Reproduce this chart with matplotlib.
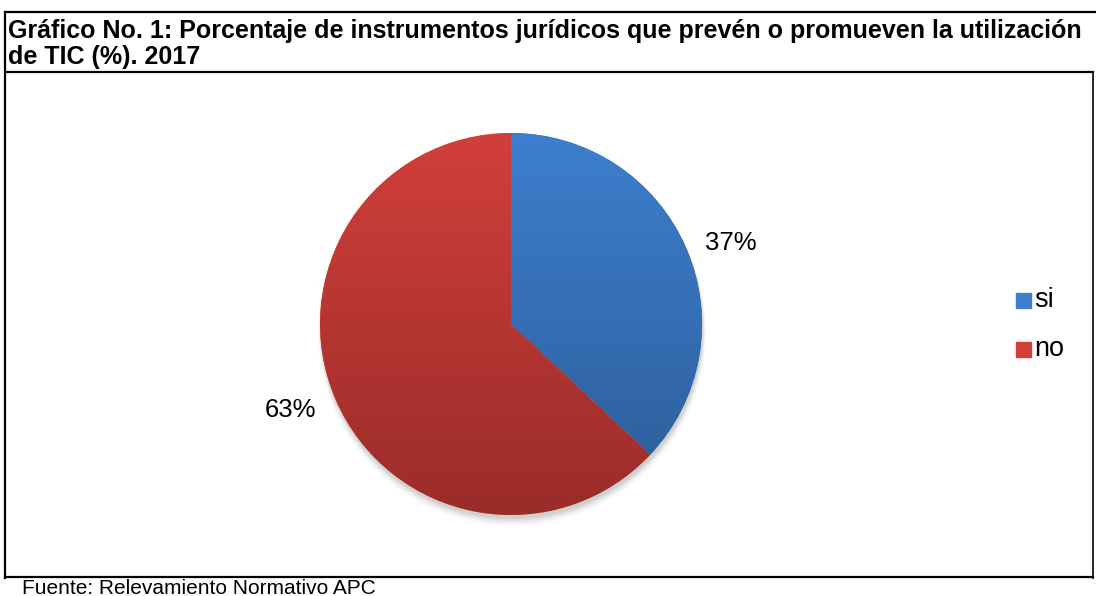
import matplotlib.pyplot as plt
import numpy as np
from matplotlib.colors import LinearSegmentedColormap
from matplotlib.patches import Circle

labels = ["si", "no"]
values = [37, 63]
top_colors = ["#3d7fcd", "#d13f3b"]
bottom_colors = ["#2c5c98", "#9a2c2a"]

title = "Gráfico No. 1: Porcentaje de instrumentos jurídicos que prevén o promueven la utilización\nde TIC (%). 2017"
source = "Fuente: Relevamiento Normativo APC"

W, H = 1096, 596
fig = plt.figure(figsize=(W / 100, H / 100), dpi=100)
plt.rcParams["font.family"] = ["Liberation Sans", "DejaVu Sans"]

# frames in pixel coordinates
bg = fig.add_axes([0, 0, 1, 1])
bg.set_xlim(0, W)
bg.set_ylim(H, 0)
bg.axis("off")
bg.plot([5, 1096], [12, 12], color="black", lw=1.6)
bg.plot([5, 5], [12, 578], color="black", lw=1.6)
bg.plot([5, 1093], [72, 72], color="black", lw=1.6)
bg.plot([1093, 1093], [72, 578], color="black", lw=1.2)
bg.plot([5, 1093], [577, 577], color="black", lw=1.6)
bg.text(8, 44, title, fontsize=18, fontweight="bold",
        va="center", ha="left", linespacing=1.1)
bg.text(22, 588, source, fontsize=15, va="center", ha="left")

# pie axes
cx, cy, r = 511, 324, 191
ax = fig.add_axes([(cx - r) / W, (H - cy - r) / H, 2 * r / W, 2 * r / H])
ax.axis("off")

# soft shadow
for i, a in enumerate(np.linspace(0.06, 0.015, 5)):
    ax.add_patch(Circle((0.005, -0.02 - i * 0.006), 1.0 + i * 0.004, color="black",
                        alpha=a, lw=0, zorder=0, clip_on=False))

wedges, _ = ax.pie(values, startangle=90, counterclock=False, radius=1,
                   wedgeprops=dict(linewidth=0))

grad = np.linspace(1, 0, 256).reshape(-1, 1)
for w, ct, cb in zip(wedges, top_colors, bottom_colors):
    cmap = LinearSegmentedColormap.from_list("g", [cb, ct])
    im = ax.imshow(grad, extent=(-1, 1, -1, 1), cmap=cmap, aspect="auto", zorder=2)
    im.set_clip_path(w)

ax.set_xlim(-1, 1)
ax.set_ylim(-1, 1)

bg.text(731, 243, f"{values[0]}%", fontsize=18.5, ha="center", va="center")
bg.text(291, 410, f"{values[1]}%", fontsize=18.5, ha="center", va="center")

# legend
for i, (lab, c1, c2) in enumerate(zip(labels, top_colors, bottom_colors)):
    y = 300 + i * 49
    bg.add_patch(plt.Rectangle((1016, y - 7), 15, 15, color=c1))
    bg.text(1034, y, lab, fontsize=19.5, ha="left", va="center")

fig.savefig("out.png", dpi=100)
